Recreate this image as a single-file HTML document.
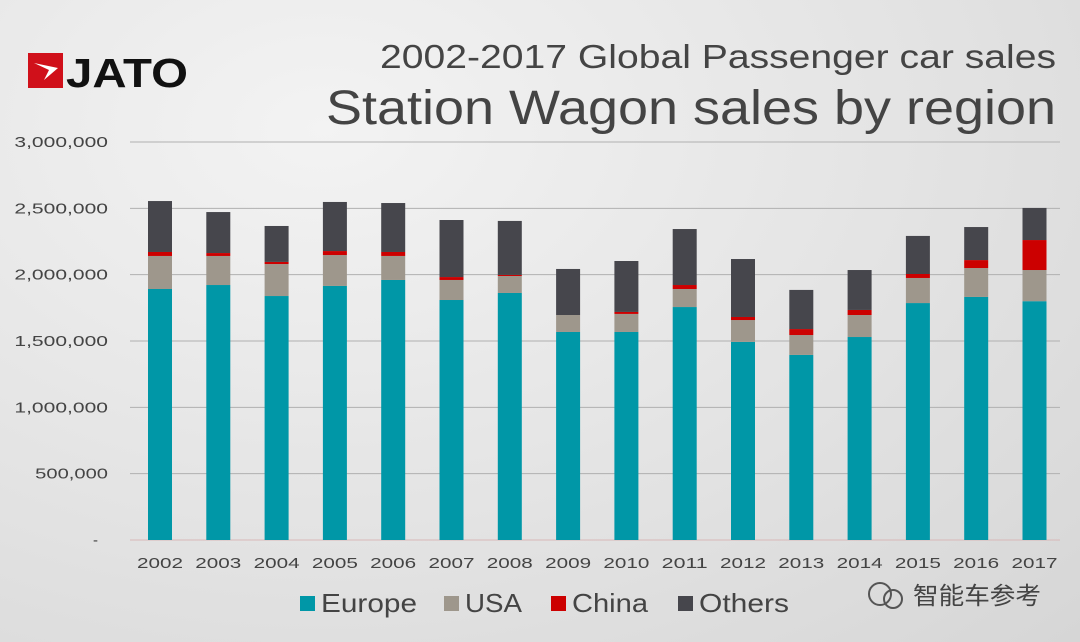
<!DOCTYPE html>
<html><head><meta charset="utf-8"><style>
body{margin:0;width:1080px;height:642px;overflow:hidden;background:radial-gradient(ellipse at 30% 20%,#f3f3f3 0%,#e2e2e2 60%,#d6d6d6 100%);font-family:"Liberation Sans","Noto Sans CJK SC",sans-serif;}
svg{position:absolute;left:0;top:0}
</style></head><body>
<svg id="c" width="1080" height="642">
 <g>
  <rect x="28" y="53" width="35" height="35" fill="#d0101a"/>
  <path d="M34 63 L58 68 L44 80 L49 70 Z" fill="#fff"/>
  <text x="66" y="87" font-size="41" font-weight="bold" fill="#111" textLength="122" lengthAdjust="spacingAndGlyphs">JATO</text>
 </g>
 <text x="380" y="68" font-size="33" fill="#444" textLength="676" lengthAdjust="spacingAndGlyphs">2002-2017 Global Passenger car sales</text>
 <text x="326" y="124" font-size="48" fill="#444" textLength="730" lengthAdjust="spacingAndGlyphs">Station Wagon sales by region</text>
 <g id="grid"></g><g id="bars"></g><g id="xl"></g><g id="leg"></g>
 <g>
  <circle cx="880" cy="594" r="11" fill="none" stroke="#555" stroke-width="2"/>
  <circle cx="893" cy="599" r="9" fill="none" stroke="#555" stroke-width="2"/>
  <text x="913" y="604" font-size="24" fill="#444" textLength="128" lengthAdjust="spacingAndGlyphs">智能车参考</text>
 </g>
</svg>
<script>
const years=["2002","2003","2004","2005","2006","2007","2008","2009","2010","2011","2012","2013","2014","2015","2016","2017"];
const europe=[1892,1922,1839,1915,1960,1809,1862,1568,1568,1756,1493,1395,1530,1786,1832,1800];
const usa=[249,219,241,233,181,151,128,128,136,136,165,150,166,189,218,235];
const china=[30,22,16,30,30,22,8,0,15,30,23,45,38,30,60,226];
const others=[384,309,271,370,369,430,407,347,384,422,437,295,301,287,249,242];
const yTicks=[0,500000,1000000,1500000,2000000,2500000,3000000];
const series=[["Europe",europe,"#0097a7"],["USA",usa,"#9e978c"],["China",china,"#cc0000"],["Others",others,"#46464c"]];
const NS="http://www.w3.org/2000/svg";
const y0=540,yTop=142,vMax=3000000;
const Y=v=>y0-(v/vMax)*(y0-yTop);
const X=i=>160+i*58.3;
function mk(t,a,p){const e=document.createElementNS(NS,t);for(const k in a)e.setAttribute(k,a[k]);document.getElementById(p).appendChild(e);return e;}
yTicks.forEach(t=>{
 const l=mk("line",{x1:130,x2:1060,y1:Y(t),y2:Y(t),stroke:t?"#b0b0b0":"#d8b8b8","stroke-width":1},"grid");
 
 
 const s=t?t.toLocaleString("en-US"):"-";
 const a={x:t?108:98,y:Y(t)+5,"text-anchor":"end","font-size":15,fill:"#444"};
 if(t){a.textLength=s.length*10.4;a.lengthAdjust="spacingAndGlyphs";}
 const tx=mk("text",a,"grid");
 tx.textContent=s;
 
 
});
years.forEach((yr,i)=>{
 let acc=0;
 series.forEach(([n,arr,c])=>{
  const v=arr[i]*1000;
  const r=mk("rect",{x:X(i)-12,width:24,y:Y(acc+v),height:Y(acc)-Y(acc+v),fill:c},"bars");
  
  
  acc+=v;
 });
 const t=mk("text",{x:X(i)-23,y:568,"font-size":15,fill:"#444",textLength:46,lengthAdjust:"spacingAndGlyphs"},"xl");
 t.textContent=yr;
 
 
});
const lx=[300,444,551,678];
const lw=[96,57,76,90];
series.forEach(([n,a,c],k)=>{
 const r=mk("rect",{x:lx[k],y:596,width:15,height:15,fill:c},"leg");
 
 
 const t=mk("text",{x:lx[k]+21,y:612,"font-size":26,fill:"#444",textLength:lw[k],lengthAdjust:"spacingAndGlyphs"},"leg");
 t.textContent=n;
 
 
});
</script>
</body></html>
